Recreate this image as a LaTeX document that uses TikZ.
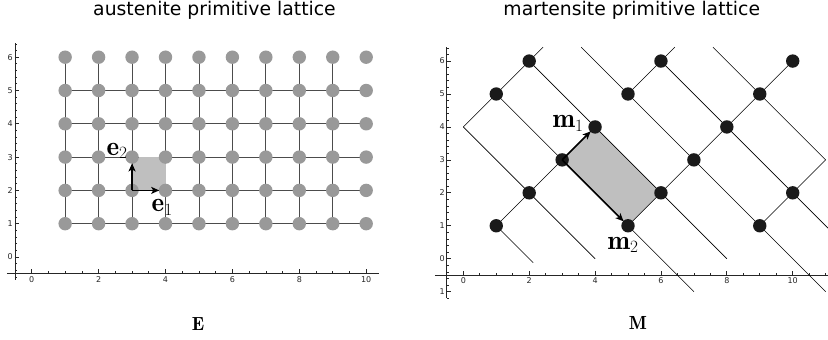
\documentclass[tikz,border=0pt]{standalone}
\usepackage{fontspec}
\newfontfamily\dejavu{DejaVu Sans}
\usetikzlibrary{arrows.meta}
\definecolor{dotgray}{RGB}{153,153,153}
\definecolor{dotblack}{RGB}{26,26,26}
\definecolor{cellgray}{RGB}{191,191,191}
\begin{document}
\begin{tikzpicture}[x=1bp,y=1bp,
  ax/.style={line width=0.7bp, black!85},
  ticklab/.style={font=\dejavu\fontsize{8bp}{9bp}\selectfont, text=black!85, inner sep=0pt},
  gline/.style={line width=0.8bp, black!70},
  mline/.style={line width=0.65bp, black},
  vec/.style={line width=1.7bp, -{Stealth[length=8bp,width=7bp,inset=2bp]}, shorten >=6.3bp},
  lab/.style={inner sep=0pt, font=\fontsize{27bp}{30bp}\selectfont},
  big/.style={inner sep=0pt, font=\fontsize{19bp}{22bp}\selectfont},
  ttl/.style={inner sep=0pt, font=\dejavu\fontsize{18.8bp}{22bp}\selectfont},
  gdot/.style={circle, fill=dotgray, minimum size=13.4bp, inner sep=0pt},
  bdot/.style={circle, fill=dotblack, minimum size=13.4bp, inner sep=0pt},
]
\useasboundingbox (0,0) rectangle (828,339);

% ---------------- left: austenite ----------------
\begin{scope}[shift={(31.7bp,82bp)}, x=33.45bp, y=33.3bp]
  \draw[ax] (-0.74,-0.5) -- (10.38,-0.5);
  \draw[ax] (-0.5,-0.69) -- (-0.5,6.43);
  \foreach \t in {0.5,1,...,10} \draw[ax] (\t,-0.5) -- ++(0,2.5bp);
  \foreach \t in {0,2,...,10} {
    \draw[ax] (\t,-0.5) -- ++(0,4.5bp);
    \node[ticklab, anchor=north] (lx\t) at ([yshift=-2.6bp]\t,-0.5) {\t};
  }
  \foreach \t in {-0.6,-0.4,...,6.41} \draw[ax] (-0.5,\t) -- ++(2.5bp,0);
  \foreach \t in {0,...,6} {
    \draw[ax] (-0.5,\t) -- ++(4.5bp,0);
    \node[ticklab, anchor=east] (ly\t) at ([xshift=-2bp]-0.5,\t) {\t};
  }
  \foreach \i in {1,...,10} \foreach \j in {1,...,6} \coordinate (a\i-\j) at (\i,\j);
  \fill[cellgray] (a3-2) rectangle (a4-3);
  \foreach \i in {1,...,9} \foreach \j in {1,...,5} {
    \pgfmathtruncatemacro\ip{\i+1}
    \pgfmathtruncatemacro\jp{\j+1}
    \draw[gline] (a\i-\j) -- (a\ip-\j);
    \draw[gline] (a\i-\j) -- (a\i-\jp);
  }
  \fill[cellgray] ([xshift=6.7bp]a3-2) rectangle ([yshift=-0.4bp]a4-3);
  \foreach \i in {1,...,10} \foreach \j in {1,...,6} \node[gdot] (d\i-\j) at (a\i-\j) {};
  \draw[vec] (a3-2) -- (a4-2);
  \draw[vec] (a3-2) -- (a3-3);
\end{scope}
\node[lab, anchor=base west] (le1) at (151.5,127.5) {$\mathbf{e}_1$};
\node[lab, anchor=base west] (le2) at (106.3,184) {$\mathbf{e}_2$};
\node[ttl, anchor=base] (t1) at (214.5,324) {austenite primitive lattice};
\node[big, anchor=base] (lE) at (198,9) {$\mathbf{E}$};

% ---------------- right: martensite ----------------
\begin{scope}[shift={(463.3bp,80.3bp)}, x=32.94bp, y=32.94bp]
  \draw[ax] (-0.86,-0.5) -- (11.1,-0.5);
  \draw[ax] (-0.5,-1.2) -- (-0.5,6.43);
  \foreach \t in {0.5,1,...,11} \draw[ax] (\t,-0.5) -- ++(0,2.5bp);
  \foreach \t in {0,2,...,10} {
    \draw[ax] (\t,-0.5) -- ++(0,4.5bp);
    \node[ticklab, anchor=north] (rx\t) at ([yshift=-2.6bp]\t,-0.5) {\t};
  }
  \foreach \t in {-1.2,-1.0,...,6.41} \draw[ax] (-0.5,\t) -- ++(2.5bp,0);
  \foreach \t in {-1,...,6} \draw[ax] (-0.5,\t) -- ++(4.5bp,0);
  \foreach \t in {0,...,6} \node[ticklab, anchor=east] (ry\t) at ([xshift=-2bp]-0.5,\t) {\t};
  \node[ticklab, anchor=east] (rym1) at ([xshift=-2bp]-0.5,-1) {1};

  \foreach \p in {1-1,2-2,3-3,4-4,5-5,6-6,1-5,2-6,5-1,6-2,7-3,8-4,9-1,10-2,9-5,10-6}
    \coordinate (b\p) at (0,0);
  \coordinate (b1-1) at (1,1);   \coordinate (b2-2) at (2,2);
  \coordinate (b3-3) at (3,3);   \coordinate (b4-4) at (4,4);
  \coordinate (b5-5) at (5,5);   \coordinate (b6-6) at (6,6);
  \coordinate (b1-5) at (1,5);   \coordinate (b2-6) at (2,6);
  \coordinate (b5-1) at (5,1);   \coordinate (b6-2) at (6,2);
  \coordinate (b7-3) at (7,3);   \coordinate (b8-4) at (8,4);
  \coordinate (b9-1) at (9,1);   \coordinate (b10-2) at (10,2);
  \coordinate (b9-5) at (9,5);   \coordinate (b10-6) at (10,6);
  \coordinate (c0-4) at (0,4);   \coordinate (c11-3) at (11,3);
  \coordinate (u1) at (2.42,6.42); \coordinate (u2) at (6.42,6.42);
  \coordinate (u3) at (3.58,6.42); \coordinate (u4) at (7.58,6.42);
  \coordinate (w1) at (2.12,-0.12); \coordinate (w2) at (4,0);
  \coordinate (w3) at (7,-1);       \coordinate (w4) at (8,0);
  \coordinate (w5) at (11,-1);      \coordinate (w6) at (11.07,0.93);

  \fill[cellgray] (b3-3) -- (b4-4) -- (b6-2) -- (b5-1) -- cycle;
  % slope +1
  \draw[mline] (c0-4) -- (b1-5) -- (b2-6) -- (u1);
  \draw[mline] (b1-1) -- (b2-2) -- (b3-3) -- (b4-4);
  \draw[mline] (b5-5) -- (b6-6) -- (u2);
  \draw[mline] (b5-1) -- (b6-2) -- (b7-3) -- (b8-4) -- (b9-5) -- (b10-6);
  \draw[mline] (b9-1) -- (b10-2) -- (c11-3);
  % slope -1
  \draw[mline] (b1-1) -- (w1);
  \draw[mline] (c0-4) -- (b2-2) -- (w2);
  \draw[mline] (b1-5) -- (b3-3) -- (b5-1) -- (w3);
  \draw[mline] (b2-6) -- (b4-4) -- (b6-2) -- (w4);
  \draw[mline] (u3) -- (b5-5) -- (b7-3) -- (b9-1) -- (w5);
  \draw[mline] (b6-6) -- (b8-4) -- (b10-2) -- (w6);
  \draw[mline] (u4) -- (b9-5) -- (c11-3);

  \foreach \p in {1-1,2-2,3-3,4-4,5-5,6-6,1-5,2-6,5-1,6-2,7-3,8-4,9-1,10-2,9-5,10-6}
    \node[bdot] (n\p) at (b\p) {};
  \draw[vec] (b3-3) -- (b4-4);
  \draw[vec] (b3-3) -- (b5-1);
\end{scope}
\node[lab, anchor=base west] (lm1) at (552.5,211.7) {$\mathbf{m}_1$};
\node[lab, anchor=base west] (lm2) at (607.5,90) {$\mathbf{m}_2$};
\node[ttl, anchor=base] (t2) at (631.8,324) {martensite primitive lattice};
\node[big, anchor=base] (lM) at (638,9.5) {$\mathbf{M}$};
\end{tikzpicture}
\end{document}
